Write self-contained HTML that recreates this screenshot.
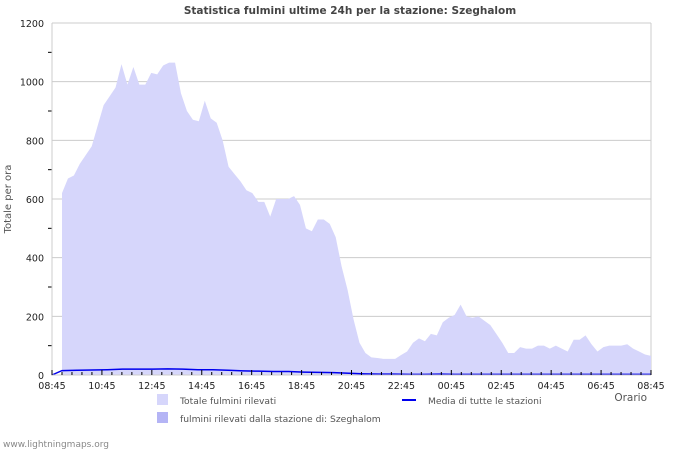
<!DOCTYPE html>
<html><head><meta charset="utf-8"><style>
body{margin:0;background:#fff;width:700px;height:450px;overflow:hidden;font-family:"DejaVu Sans","Liberation Sans",sans-serif;}
svg text{font-family:"DejaVu Sans","Liberation Sans",sans-serif;}
</style></head><body>
<svg id="chart" width="700" height="450" xmlns="http://www.w3.org/2000/svg">
<text x="350" y="14" text-anchor="middle" font-size="10.5" font-weight="bold" fill="#444">Statistica fulmini ultime 24h per la stazione: Szeghalom</text>
<text transform="translate(11,199) rotate(-90)" text-anchor="middle" font-size="10" fill="#555">Totale per ora</text>
<text x="647" y="401" text-anchor="end" font-size="10.5" fill="#555">Orario</text>
<g id="grid"></g><g id="marks"></g><g id="axes"></g>
<rect x="157" y="394" width="11" height="11" fill="#d6d6fb"/>
<text x="180" y="404" font-size="9.2" fill="#555">Totale fulmini rilevati</text>
<rect x="157" y="412" width="11" height="11" fill="#b4b4f5"/>
<text x="180" y="422" font-size="9.2" fill="#555">fulmini rilevati dalla stazione di: Szeghalom</text>
<line x1="402" y1="400" x2="416" y2="400" stroke="#0000ee" stroke-width="2"/>
<text x="428" y="404" font-size="9.2" fill="#555">Media di tutte le stazioni</text>
<text x="3" y="447" font-size="9" fill="#888">www.lightningmaps.org</text>
</svg>
<script>
const totals=[620,670,680,720,750,780,850,920,950,980,1060,990,1050,990,990,1030,1025,1055,1065,1065,960,900,870,865,935,875,860,800,710,685,660,630,620,590,590,540,600,600,600,610,580,500,490,530,530,515,470,370,290,190,110,75,60,58,55,55,55,68,80,110,125,115,140,135,180,195,205,240,200,195,200,185,170,140,110,75,75,95,90,90,100,100,90,100,90,80,120,120,135,105,80,95,100,100,100,105,90,80,70,65];
const averages=[15,16,17,18,20,20,20,21,20,18,18,16,14,13,12,12,10,9,8,6,4,3,3,2,2,3,2,2,2,2,2,2,2,2,2,2,2,2,2,2];
const yTicks=[0,200,400,600,800,1000,1200];
const xLabels=["08:45","10:45","12:45","14:45","16:45","18:45","20:45","22:45","00:45","02:45","04:45","06:45","08:45"];
const X0=52,X1=651,Y0=375,Y1=23,NS="http://www.w3.org/2000/svg";
const y=v=>Y0-(v/1200)*(Y0-Y1);
const xT=i=>62+(X1-62)*i/(totals.length-1);
const xA=i=>62+(X1-62)*i/(averages.length-1);
function mk(tag,attrs,parent){const e=document.createElementNS(NS,tag);for(const k in attrs)e.setAttribute(k,attrs[k]);parent.appendChild(e);return e;}
const grid=document.getElementById('grid'),marks=document.getElementById('marks'),axes=document.getElementById('axes');
yTicks.forEach(v=>{
 const l=mk('line',{x1:X0,x2:X1,y1:y(v),y2:y(v),stroke:'#ccc','stroke-width':1},grid);
 
 
 const t=mk('text',{x:X0-8,y:y(v)+4,'text-anchor':'end','font-size':9.5,fill:'#222'},axes);
 t.textContent=v;
 
 
});
for(let v=100;v<1200;v+=200){const m=mk('line',{x1:X0-4,x2:X0,y1:y(v),y2:y(v),stroke:'#000'},axes);
 
 }
mk('line',{x1:X1,x2:X1,y1:Y1,y2:Y0,stroke:'#ccc'},grid);
let d='M'+xT(0)+','+Y0;
totals.forEach((v,i)=>{d+=' L'+xT(i)+','+y(v);});
d+=' L'+xT(totals.length-1)+','+Y0+' Z';
const area=mk('path',{d:d,fill:'#d6d6fb'},marks);


let p='M'+X0+','+Y0;
averages.forEach((v,i)=>{p+=' L'+xA(i)+','+y(v);});
const avg=mk('path',{d:p,fill:'none',stroke:'#0000ee','stroke-width':1.5},marks);


mk('line',{x1:X0,x2:X0,y1:Y1,y2:Y0+1,stroke:'#ccc'},axes);
mk('line',{x1:X0,x2:X1,y1:Y0,y2:Y0,stroke:'#ccc'},axes);
const step=(X1-X0)/(xLabels.length-1);
xLabels.forEach((s,i)=>{
 const xx=X0+step*i;
 const t=mk('text',{x:xx,y:Y0+14,'text-anchor':'middle','font-size':9.5,fill:'#222'},axes);
 t.textContent=s;
 
 
 const tk=mk('line',{x1:xx,x2:xx,y1:Y0-5,y2:Y0,stroke:'#000'},axes);
 
 
 if(i<xLabels.length-1)for(let k=1;k<5;k++){const mx=xx+step*k/5;
  const m=mk('line',{x1:mx,x2:mx,y1:Y0-3,y2:Y0,stroke:'#000'},axes);
  
  }
});
</script>
</body></html>
